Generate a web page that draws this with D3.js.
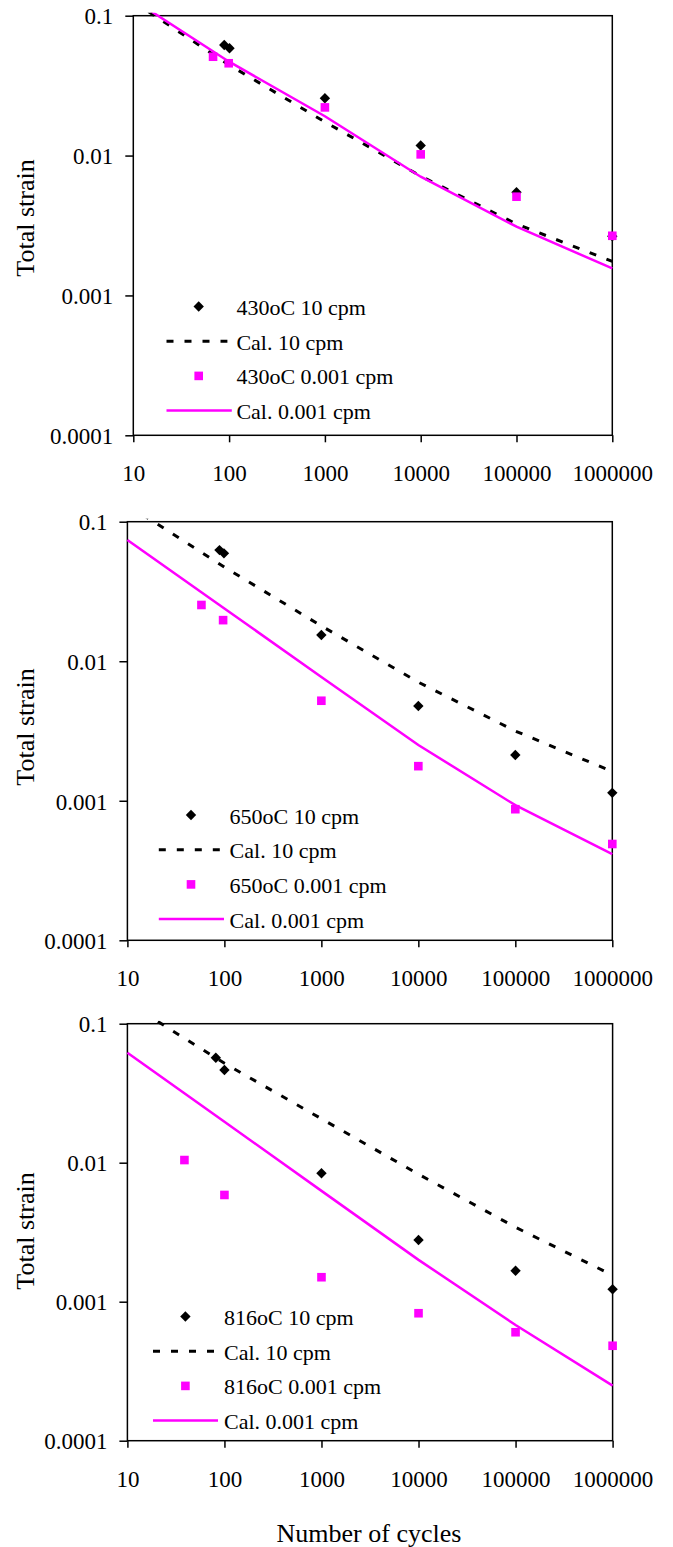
<!DOCTYPE html>
<html>
<head>
<meta charset="utf-8">
<script src="https://cdn.jsdelivr.net/npm/d3@7/dist/d3.min.js"></script>
<style>
  html, body { margin: 0; padding: 0; background: #fff; }
  svg { display: block; }
  text { font-family: "Liberation Serif", "Times New Roman", serif; fill: #000; }
</style>
</head>
<body>
<svg id="chart" width="673" height="1547"></svg>
<script>
// Axis ticks shared by the three panels
const xTicks = [10, 100, 1000, 10000, 100000, 1000000];
const yTicks = [0.1, 0.01, 0.001, 0.0001];
const xTickLabels = ["10", "100", "1000", "10000", "100000", "1000000"];
const yTickLabels = ["0.1", "0.01", "0.001", "0.0001"];

// Cycles at which the calculated curves are evaluated
const calCycles = [10, 100, 1000, 10000, 100000, 1000000];

// 430 oC
const t430Fast = { n: [89, 101, 1000, 10000, 100000, 1000000],
                   e: [0.0617, 0.0585, 0.0257, 0.0118, 0.00547, 0.00265] };
const t430Slow = { n: [68, 99, 1000, 10000, 100000, 1000000],
                   e: [0.0509, 0.0457, 0.0221, 0.0102, 0.00508, 0.00267] };
const cal430Fast = [0.126, 0.0445, 0.0174, 0.00713, 0.00324, 0.00175];
const cal430Slow = [0.13, 0.0469, 0.0191, 0.00706, 0.0031, 0.00156];

// 650 oC
const t650Fast = { n: [89, 99, 1000, 10000, 100000, 1000000],
                   e: [0.0626, 0.0593, 0.0154, 0.00478, 0.00213, 0.00114] };
const t650Slow = { n: [58, 97, 1000, 10000, 100000, 1000000],
                   e: [0.0253, 0.0197, 0.00521, 0.00177, 0.00087, 0.00049] };
const cal650Fast = [0.132, 0.0473, 0.0179, 0.00708, 0.00316, 0.00162];
const cal650Slow = [0.074, 0.0239, 0.0077, 0.00251, 0.00093, 0.000415];

// 816 oC
const t816Fast = { n: [81.5, 100, 1000, 10000, 100000, 1000000],
                   e: [0.0569, 0.0464, 0.0084, 0.00278, 0.00167, 0.00123] };
const t816Slow = { n: [38.7, 100, 1000, 10000, 100000, 1000000],
                   e: [0.01045, 0.00586, 0.0015, 0.000826, 0.000603, 0.000482] };
const cal816Fast = [0.142, 0.0519, 0.0207, 0.00826, 0.00343, 0.00155];
const cal816Slow = [0.0618, 0.0197, 0.00627, 0.002, 0.00068, 0.000249];

const legendLabels = {
  430: ["430oC 10 cpm", "Cal. 10 cpm", "430oC 0.001 cpm", "Cal. 0.001 cpm"],
  650: ["650oC 10 cpm", "Cal. 10 cpm", "650oC 0.001 cpm", "Cal. 0.001 cpm"],
  816: ["816oC 10 cpm", "Cal. 10 cpm", "816oC 0.001 cpm", "Cal. 0.001 cpm"]
};

const MAGENTA = "#FF00FF";

// Panel frames and legend placement
const panels = [
  { temp: 430, fast: t430Fast, slow: t430Slow, calFast: cal430Fast, calSlow: cal430Slow,
    left: 133.3, right: 612.3, top: 15.7, bottom: 435.3, titleY: 218,
    lg: { x0: 166.5, dashEnd: 227.4, solidEnd: 231.8, mx: 198.7, tx: 236.4, y0: 315 } },
  { temp: 650, fast: t650Fast, slow: t650Slow, calFast: cal650Fast, calSlow: cal650Slow,
    left: 127.4, right: 612.3, top: 521.7, bottom: 940.3, titleY: 727,
    lg: { x0: 158.8, dashEnd: 221, solidEnd: 224, mx: 191, tx: 229.6, y0: 823.5 } },
  { temp: 816, fast: t816Fast, slow: t816Slow, calFast: cal816Fast, calSlow: cal816Slow,
    left: 127.4, right: 612.6, top: 1023.7, bottom: 1440.7, titleY: 1231,
    lg: { x0: 153, dashEnd: 214.6, solidEnd: 218, mx: 185.4, tx: 224, y0: 1325 } }
];

const svg = d3.select("#chart");
const diamond = "M0,-5.2L5.2,0L0,5.2L-5.2,0Z";
const SQ = 8.6;
const rowGap = 34.7;

panels.forEach((p, i) => {
  const x = d3.scaleLog().domain([10, 1e6]).range([p.left, p.right]);
  const y = d3.scaleLog().domain([0.0001, 0.1]).range([p.bottom, p.top]);
  const g = svg.append("g");

  // clip for the calculated curves
  const clipId = "clip" + i;
  svg.append("clipPath").attr("id", clipId).append("rect")
    .attr("x", p.left - 2).attr("y", p.top - 3)
    .attr("width", p.right - p.left + 4).attr("height", p.bottom - p.top + 5);

  // plot frame
  g.append("rect")
    .attr("x", p.left).attr("y", p.top)
    .attr("width", p.right - p.left).attr("height", p.bottom - p.top)
    .attr("fill", "#fff").attr("stroke", "#000").attr("stroke-width", 1.5);

  // y axis ticks and labels
  const yAxis = d3.axisLeft(y).tickValues(yTicks)
    .tickFormat((d, k) => yTickLabels[k]).tickSize(8).tickPadding(12);
  const ya = g.append("g").attr("transform", `translate(${p.left},0)`).call(yAxis);
  ya.select(".domain").remove();
  ya.selectAll("line").attr("stroke", "#000").attr("stroke-width", 1.5);
  ya.selectAll("text").attr("font-size", 23).attr("font-family", "Liberation Serif")
    .attr("dy", "0.36em").attr("fill", "#000");

  // x axis ticks and labels
  const xAxis = d3.axisBottom(x).tickValues(xTicks)
    .tickFormat((d, k) => xTickLabels[k]).tickSize(7).tickPadding(0);
  const xa = g.append("g").attr("transform", `translate(0,${p.bottom})`).call(xAxis);
  xa.select(".domain").remove();
  xa.selectAll("line").attr("stroke", "#000").attr("stroke-width", 1.5);
  xa.selectAll("text").attr("font-size", 23).attr("font-family", "Liberation Serif")
    .attr("y", 46).attr("dy", 0).attr("fill", "#000");

  // y title
  g.append("text")
    .attr("transform", `translate(33.5,${p.titleY}) rotate(-90)`)
    .attr("text-anchor", "middle").attr("font-size", 26)
    .text("Total strain");

  const line = d3.line().x(d => x(d[0])).y(d => y(d[1]));
  const toPts = s => s.n.map((n, k) => [n, s.e[k]]);

  // test points, 10 cpm
  g.append("g").selectAll("path").data(toPts(p.fast)).join("path")
    .attr("d", diamond)
    .attr("transform", d => `translate(${x(d[0])},${y(d[1])})`)
    .attr("fill", "#000");

  // calculated, 10 cpm
  g.append("path")
    .datum(calCycles.map((n, k) => [n, p.calFast[k]]))
    .attr("clip-path", `url(#${clipId})`)
    .attr("d", line).attr("fill", "none")
    .attr("stroke", "#000").attr("stroke-width", 3)
    .attr("stroke-dasharray", "7,11");

  // test points, 0.001 cpm
  g.append("g").selectAll("rect").data(toPts(p.slow)).join("rect")
    .attr("x", d => x(d[0]) - SQ / 2).attr("y", d => y(d[1]) - SQ / 2)
    .attr("width", SQ).attr("height", SQ).attr("fill", MAGENTA);

  // calculated, 0.001 cpm
  g.append("path")
    .datum(calCycles.map((n, k) => [n, p.calSlow[k]]))
    .attr("clip-path", `url(#${clipId})`)
    .attr("d", line).attr("fill", "none")
    .attr("stroke", MAGENTA).attr("stroke-width", 2.5);

  // legend
  const lg = p.lg;
  const labels = legendLabels[p.temp];
  const base = k => lg.y0 + k * rowGap;
  const mid = k => base(k) - 8.5;
  g.append("path").attr("d", diamond)
    .attr("transform", `translate(${lg.mx},${mid(0)})`).attr("fill", "#000");
  g.append("line").attr("x1", lg.x0).attr("x2", lg.dashEnd)
    .attr("y1", mid(1)).attr("y2", mid(1))
    .attr("stroke", "#000").attr("stroke-width", 3).attr("stroke-dasharray", "7,11");
  g.append("rect").attr("x", lg.mx - SQ / 2).attr("y", mid(2) - SQ / 2)
    .attr("width", SQ).attr("height", SQ).attr("fill", MAGENTA);
  g.append("line").attr("x1", lg.x0).attr("x2", lg.solidEnd)
    .attr("y1", mid(3)).attr("y2", mid(3))
    .attr("stroke", MAGENTA).attr("stroke-width", 2.5);
  labels.forEach((t, k) => {
    g.append("text").attr("x", lg.tx).attr("y", base(k))
      .attr("font-size", 22).text(t);
  });
});

// x title
svg.append("text")
  .attr("x", 369).attr("y", 1541.5)
  .attr("text-anchor", "middle").attr("font-size", 26)
  .text("Number of cycles");
</script>
</body>
</html>
